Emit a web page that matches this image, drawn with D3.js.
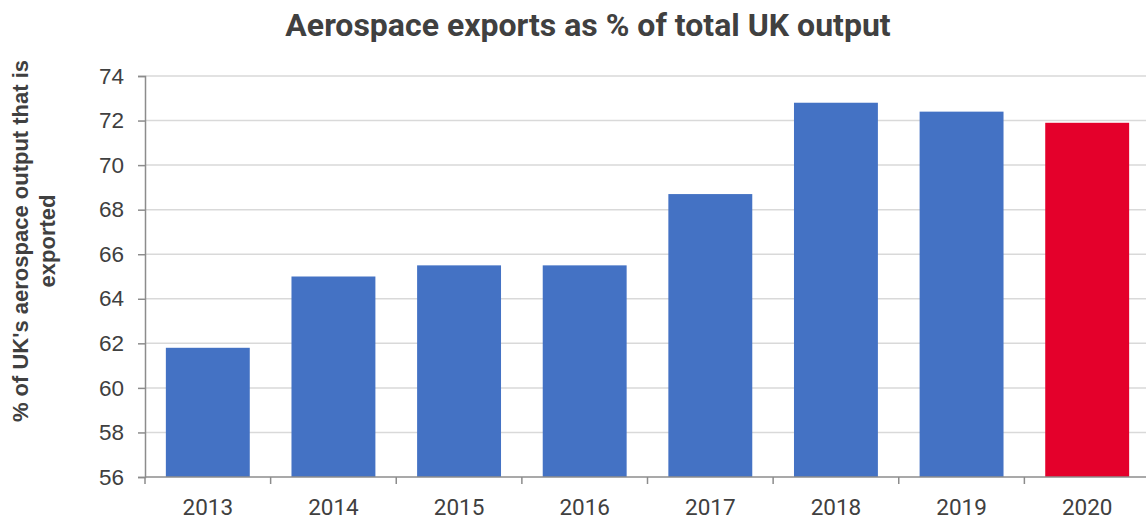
<!DOCTYPE html>
<html>
<head>
<meta charset="utf-8">
<script src="https://cdn.jsdelivr.net/npm/d3@7"></script>
<style>
  html, body { margin: 0; padding: 0; background: #fff; overflow: hidden; }
  svg { display: block; font-family: Roboto, "Noto Sans", sans-serif; }
</style>
</head>
<body>
<svg id="chart" width="1146" height="520"></svg>
<script>
// Share of UK aerospace output that is exported, by year
const years = ["2013", "2014", "2015", "2016", "2017", "2018", "2019", "2020"];
const exportShare = [61.8, 65.0, 65.5, 65.5, 68.7, 72.8, 72.4, 71.9];
const yTicks = [56, 58, 60, 62, 64, 66, 68, 70, 72, 74];
const highlightYear = "2020";

const svg = d3.select("#chart");
const width = 1146, height = 520;
// plot area runs slightly past the right edge of the canvas
const plotLeft = 145, plotRight = 1150, plotTop = 76, plotBottom = 477;

const x = d3.scaleBand()
  .domain(years)
  .range([plotLeft, plotRight])
  .paddingInner(0.332)
  .paddingOuter(0.166);

const y = d3.scaleLinear()
  .domain([56, 74])
  .range([plotBottom, plotTop]);

// Horizontal gridlines
svg.append("g")
  .selectAll("line")
  .data(yTicks.slice(1))
  .join("line")
  .attr("x1", plotLeft)
  .attr("x2", plotRight)
  .attr("y1", d => y(d))
  .attr("y2", d => y(d))
  .attr("stroke", "#d9d9d9")
  .attr("stroke-width", 1.5);

// Bars
svg.append("g")
  .selectAll("rect")
  .data(years.map((yr, i) => ({ yr, v: exportShare[i] })))
  .join("rect")
  .attr("x", d => x(d.yr))
  .attr("width", x.bandwidth())
  .attr("y", d => y(d.v))
  .attr("height", d => y(56) - y(d.v))
  .attr("fill", d => d.yr === highlightYear ? "#e4002b" : "#4472c4");

// Y axis
const yAxis = svg.append("g")
  .attr("transform", `translate(${plotLeft},0)`)
  .call(d3.axisLeft(y).tickValues(yTicks).tickSize(7).tickPadding(14).tickFormat(d3.format("d")));
yAxis.select(".domain").attr("stroke", "#8c8c8c").attr("stroke-width", 1.5);
yAxis.selectAll(".tick line").attr("stroke", "#8c8c8c").attr("stroke-width", 1.5);
yAxis.selectAll(".tick text").attr("fill", "#404040").style("font-size", "22.5px");

// X axis with ticks at band boundaries
const xAxisG = svg.append("g")
  .attr("transform", `translate(0,${y(56)})`);
xAxisG.append("line")
  .attr("x1", plotLeft).attr("x2", plotRight)
  .attr("stroke", "#8c8c8c").attr("stroke-width", 1.5);
const bounds = d3.range(years.length + 1).map(i => plotLeft + i * x.step());
xAxisG.selectAll("line.bound")
  .data(bounds)
  .join("line")
  .attr("class", "bound")
  .attr("x1", d => d).attr("x2", d => d)
  .attr("y1", 0).attr("y2", 7)
  .attr("stroke", "#8c8c8c").attr("stroke-width", 1.5);
xAxisG.selectAll("text")
  .data(years)
  .join("text")
  .attr("x", d => x(d) + x.bandwidth() / 2)
  .attr("y", 38)
  .attr("text-anchor", "middle")
  .attr("fill", "#404040")
  .style("font-size", "22.5px")
  .text(d => d);

// Title
svg.append("text")
  .attr("x", 588)
  .attr("y", 36)
  .attr("text-anchor", "middle")
  .attr("fill", "#404040")
  .style("font-size", "32px")
  .style("font-weight", "bold")
  .text("Aerospace exports as % of total UK output");

// Y axis title (two lines)
const yTitle = svg.append("text")
  .attr("transform", `translate(0,241) rotate(-90)`)
  .attr("text-anchor", "middle")
  .attr("fill", "#404040")
  .style("font-family", "'Liberation Sans', Arial, sans-serif")
  .style("font-size", "22px")
  .style("font-weight", "bold");
yTitle.append("tspan").attr("x", 0).attr("y", 28).text("% of UK's aerospace output that is");
yTitle.append("tspan").attr("x", 0).attr("y", 55).text("exported");
</script>
</body>
</html>
